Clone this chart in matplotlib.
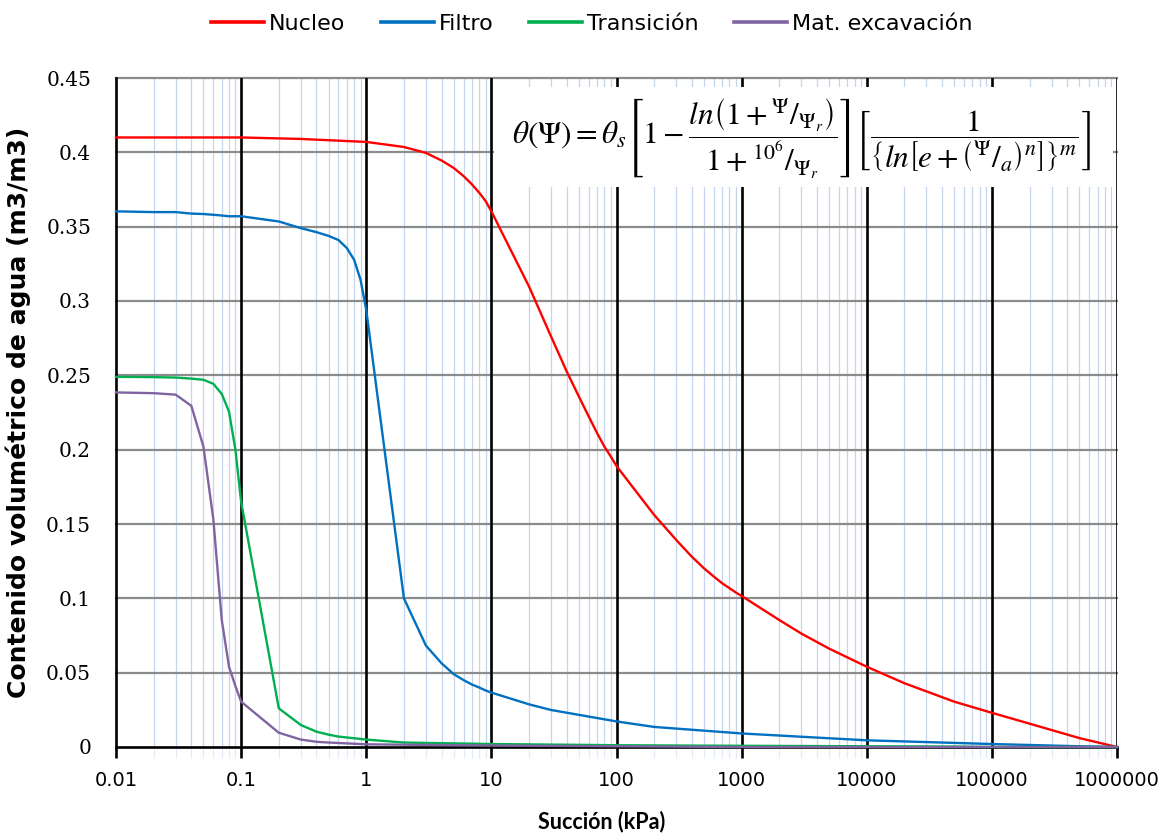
import matplotlib
matplotlib.use("Agg")
import matplotlib.pyplot as plt
from matplotlib.patches import Rectangle
from matplotlib.ticker import FixedLocator, NullFormatter

# ---------------- data ----------------
nucleo_x = [0.01, 0.1, 0.3, 1, 2, 3, 4, 5, 6, 7, 8, 9, 10, 20, 30, 40, 50, 60, 70, 80, 90,
            100, 200, 300, 400, 500, 600, 700, 800, 900, 1000, 2000, 3000, 5000, 10000,
            20000, 50000, 100000, 200000, 500000, 1000000]
nucleo_y = [0.410, 0.410, 0.409, 0.407, 0.4036, 0.3996, 0.3945, 0.3895, 0.384, 0.3784, 0.3728,
            0.3672, 0.3603, 0.3097, 0.2761, 0.2526, 0.2358, 0.2223, 0.2111, 0.2021, 0.1954,
            0.1890, 0.1561, 0.1393, 0.1280, 0.1202, 0.1146, 0.1101, 0.1068, 0.1039, 0.1016,
            0.0854, 0.0763, 0.0662, 0.0540, 0.0429, 0.0305, 0.0230, 0.0157, 0.0060, 0.0]

filtro_x = [0.01, 0.02, 0.03, 0.04, 0.05, 0.06, 0.07, 0.08, 0.1, 0.2, 0.3, 0.4, 0.5, 0.6, 0.7,
            0.8, 0.9, 1, 2, 3, 4, 5, 6, 7, 8, 9, 10, 20, 30, 100, 200, 1000, 10000, 100000,
            500000, 1000000]
filtro_y = [0.3603, 0.3598, 0.3598, 0.3588, 0.3585, 0.358, 0.3575, 0.357, 0.357, 0.3535, 0.349,
            0.3463, 0.3438, 0.341, 0.3356, 0.3277, 0.3143, 0.294, 0.100, 0.0682, 0.0563, 0.049,
            0.045, 0.042, 0.040, 0.038, 0.0366, 0.0287, 0.0249, 0.0172, 0.0135, 0.0091, 0.0045,
            0.002, 0.0005, 0.0]

trans_x = [0.01, 0.02, 0.03, 0.04, 0.05, 0.06, 0.07, 0.08, 0.09, 0.1, 0.2, 0.3, 0.4, 0.5, 0.6,
           1, 2, 10, 100, 1000, 10000, 50000, 100000, 1000000]
trans_y = [0.249, 0.2488, 0.2485, 0.2478, 0.247, 0.2443, 0.2375, 0.2256, 0.200, 0.165, 0.026,
           0.0148, 0.0103, 0.0083, 0.007, 0.005, 0.003, 0.002, 0.0012, 0.0008, 0.0005, 0.0003,
           0.0, 0.0]

excav_x = [0.01, 0.02, 0.03, 0.04, 0.05, 0.06, 0.07, 0.08, 0.09, 0.1, 0.2, 0.3, 0.4, 0.5, 1,
           10, 100, 1000, 1000000]
excav_y = [0.2385, 0.238, 0.237, 0.2295, 0.202, 0.153, 0.0855, 0.054, 0.041, 0.0305, 0.0096,
           0.005, 0.0035, 0.003, 0.0018, 0.001, 0.0005, 0.0, 0.0]

series_names = ["Nucleo", "Filtro", "Transición", "Mat. excavación"]
x_ticks = [0.01, 0.1, 1, 10, 100, 1000, 10000, 100000, 1000000]
x_tick_labels = ["0.01", "0.1", "1", "10", "100", "1000", "10000", "100000", "1000000"]
y_ticks = [0, 0.05, 0.1, 0.15, 0.2, 0.25, 0.3, 0.35, 0.4, 0.45]
y_tick_labels = ["0", "0.05", "0.1", "0.15", "0.2", "0.25", "0.3", "0.35", "0.4", "0.45"]

colors = ["#FF0000", "#0070C0", "#00B050", "#8064A2"]

# ---------------- figure ----------------
plt.rcParams["mathtext.fontset"] = "stix"
fig = plt.figure(figsize=(11.69, 8.36), dpi=100)
ax = fig.add_axes([116 / 1169, 1 - 747 / 836, 1001 / 1169, 669 / 836])

ax.set_xscale("log")
ax.set_xlim(0.01, 1e6)
ax.set_ylim(0, 0.45)
ax.set_axisbelow(True)

# grid
minor = [k * 10.0 ** e for e in range(-2, 6) for k in range(2, 10)]
for xm in minor:
    ax.axvline(xm, color="#C5D6EC", lw=0.9, zorder=0.3)
for yv in y_ticks[1:]:
    ax.axhline(yv, color="#8C8C8C", lw=1.6, zorder=0.4, clip_on=False)
for xv in x_ticks[1:]:
    ax.axvline(xv, color="black", lw=1.9, zorder=0.5)

data = [(nucleo_x, nucleo_y), (filtro_x, filtro_y), (trans_x, trans_y), (excav_x, excav_y)]
handles = []
for (xs, ys), c, name in zip(data, colors, series_names):
    h, = ax.plot(xs, ys, color=c, lw=1.7, label=name, zorder=3, clip_on=False)
    handles.append(h)

# equation box
ax.add_patch(Rectangle((0.378, 0.837), 0.618, 0.1495, transform=ax.transAxes,
                       facecolor="white", edgecolor="none", zorder=1))
eq = (r"$\theta(\Psi)=\theta_s\left[1-\dfrac{ln\left(1+{}^{\Psi}/_{\Psi_r}\right)}"
      r"{1+{}^{10^6}/_{\Psi_r}}\right]\left[\dfrac{1}{\left\{ln\left[e+\left({}^{\Psi}/_{a}\right)^n\right]\right\}^m}\right]$")
ax.text(0.685, 0.909, eq, transform=ax.transAxes, ha="center", va="center",
        fontsize=22.5, zorder=4)

# spines
for s in ["top", "right"]:
    ax.spines[s].set_visible(False)
for s in ["left", "bottom"]:
    ax.spines[s].set_linewidth(1.9)
    ax.spines[s].set_color("black")

# ticks
ax.xaxis.set_major_locator(FixedLocator(x_ticks))
ax.set_xticklabels(x_tick_labels)
ax.xaxis.set_minor_locator(FixedLocator(minor))
ax.xaxis.set_minor_formatter(NullFormatter())
ax.tick_params(axis="x", which="major", direction="out", length=8, width=1.9,
               color="black", labelsize=14, pad=9)
ax.tick_params(axis="x", which="minor", direction="out", length=8, width=0.9,
               color="#E3EBF6")
ax.set_yticks(y_ticks)
ax.set_yticklabels(y_tick_labels)
ax.tick_params(axis="y", which="both", length=0, labelsize=14.5, pad=18)
for lab in ax.get_yticklabels():
    lab.set_family(["DejaVu Serif", "DejaVu Sans"])

ax.set_xlabel("Succión (kPa)", fontsize=15.5, fontweight="bold", family=["Lato", "DejaVu Sans"])
ax.xaxis.set_label_coords(0.4855, -0.095)
ax.set_ylabel("Contenido volumétrico de agua (m3/m3)", fontsize=18, fontweight="bold",
              family="DejaVu Sans")
ax.yaxis.set_label_coords(-0.085, 0.5)

fig.legend(handles=handles, labels=series_names, loc="center", bbox_to_anchor=(0.506, 0.971),
           ncol=4, frameon=False, handlelength=2.4, handletextpad=0.2, columnspacing=1.6,
           prop={"family": "DejaVu Sans", "size": 16})
for lh in fig.legends[0].get_lines():
    lh.set_linewidth(2.6)

fig.savefig("out.png", dpi=100)
